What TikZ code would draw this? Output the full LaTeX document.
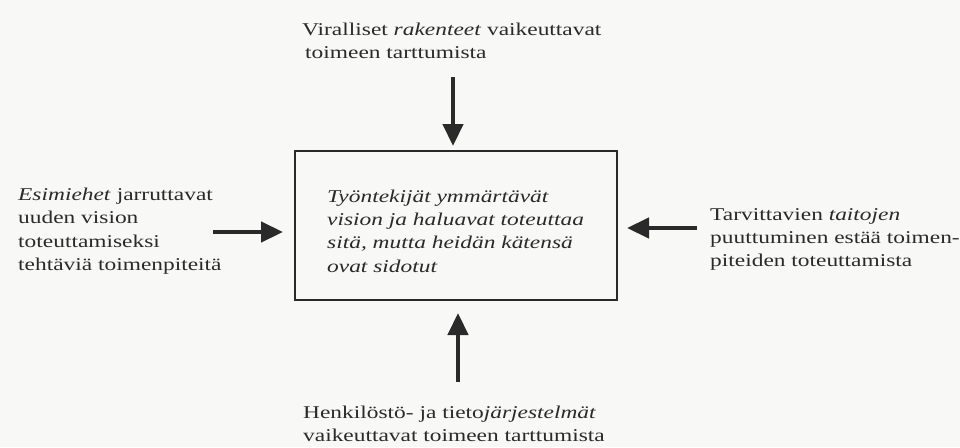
\documentclass[tikz,border=0pt]{standalone}
\usepackage{fontspec}
\setmainfont{Liberation Serif}[FakeStretch=1.3]
\usetikzlibrary{arrows.meta}
\definecolor{ink}{HTML}{2A2A2A}
\definecolor{paper}{HTML}{F8F8F6}
\begin{document}
\begin{tikzpicture}[x=1pt,y=-1pt,
  txt/.style={anchor=base west,inner sep=0pt,text=ink,font=\fontsize{18}{20}\selectfont},
  arr/.style={draw=ink,line width=4.5pt,-{Triangle[length=22pt,width=20pt]}},
  framebox/.style={draw=ink,line width=1.8pt,minimum width=322pt,minimum height=149pt,inner sep=0pt}]
\fill[paper] (0,0) rectangle (960,447);
\useasboundingbox (0,0) rectangle (960,447);
% central box
\node[framebox] (box) at (456,225.5) {};
\node[txt] (c1) at (327,202) {\textit{Työntekijät ymmärtävät}};
\node[txt] (c2) at (327,225.3) {\textit{vision ja haluavat toteuttaa}};
\node[txt] (c3) at (327,248.6) {\textit{sitä, mutta heidän kätensä}};
\node[txt] (c4) at (327,272) {\textit{ovat sidotut}};
% top
\node[txt] (t1) at (302,35) {Viralliset \textit{rakenteet} vaikeuttavat};
\node[txt] (t2) at (305,58) {toimeen tarttumista};
% left
\node[txt] (l1) at (18,200) {\textit{Esimiehet} jarruttavat};
\node[txt] (l2) at (18,223.5) {uuden vision};
\node[txt] (l3) at (18,247) {toteuttamiseksi};
\node[txt] (l4) at (18,270.5) {tehtäviä toimenpiteitä};
% right
\node[txt] (r1) at (710,220) {Tarvittavien \textit{taitojen}};
\node[txt] (r2) at (710,243.3) {puuttuminen estää toimen-};
\node[txt] (r3) at (710,266.6) {piteiden toteuttamista};
% bottom
\node[txt] (b1) at (303,418.5) {Henkilöstö- ja tieto\textit{järjestelmät}};
\node[txt] (b2) at (303,441) {vaikeuttavat toimeen tarttumista};
% arrow end points
\coordinate (ts) at (453,77);
\coordinate (te) at (453,146);
\coordinate (bs) at (458,382);
\coordinate (be) at (458,313);
\coordinate (ls) at (213,232);
\coordinate (le) at (283,232);
\coordinate (rs) at (697,228);
\coordinate (re) at (627,228);
\draw[arr] (ts) -- (te);
\draw[arr] (bs) -- (be);
\draw[arr] (ls) -- (le);
\draw[arr] (rs) -- (re);
\end{tikzpicture}
\end{document}
